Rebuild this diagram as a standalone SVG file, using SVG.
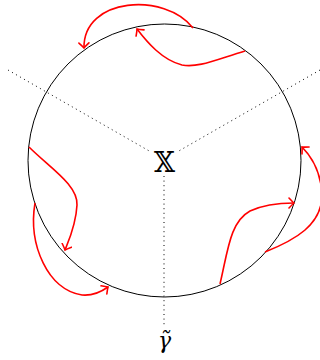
<svg xmlns="http://www.w3.org/2000/svg" width="320" height="360" viewBox="0 0 320 360">
<style>
.dot{stroke:#000;stroke-width:1;stroke-dasharray:1 3.6;fill:none}
.flow{stroke:#f00;stroke-width:1.6;fill:none;marker-end:url(#arr)}
.lbl{font-family:"DejaVu Serif","Liberation Serif",serif;fill:#000}
</style>
<defs>
<marker id="arr" viewBox="-6 -6 8 12" markerWidth="8" markerHeight="12" refX="0" refY="0" orient="auto" markerUnits="userSpaceOnUse">
<path d="M-5,-5 Q-1.5,-1.2 0,0 Q-1.5,1.2 -5,5" stroke="#f00" stroke-width="1.6" fill="none" stroke-linecap="round"/>
</marker>
</defs>
<g id="axes">
<line class="dot" x1="8" y1="70" x2="151" y2="152"/>
<line class="dot" x1="320" y1="70" x2="177" y2="152"/>
<line class="dot" x1="164" y1="176" x2="164" y2="327"/>
</g>
<g id="circle">
<circle cx="164.5" cy="160.5" r="136.5" fill="none" stroke="#000" stroke-width="1"/>
</g>
<g id="connectors">
<path class="flow" d="M193,28 C165,-8 83,-3 84,48"/>
<path class="flow" d="M245,51 C215,60 198,68 182,65 C162,60 147,42 137,29"/>
<path class="flow" d="M29,147 C50,168 78,185 77,205 C76,225 69,240 65,250"/>
<path class="flow" d="M35,203 C28,245 48,290 82,295 C93,296 101,292 108,287"/>
<path class="flow" d="M220,284 C228,250 230,222 250,211 C265,204 280,203 294,203"/>
<path class="flow" d="M265,252 C295,240 322,225 322,195 C321,172 312,157 302,147"/>
</g>
<g id="label-X">
<text class="lbl" x="164.5" y="172" font-size="27" text-anchor="middle">𝕏</text>
</g>
<g id="label-gamma">
<text class="lbl" x="164.5" y="348" font-size="22" font-style="italic" text-anchor="middle">γ̃</text>
</g>
</svg>
